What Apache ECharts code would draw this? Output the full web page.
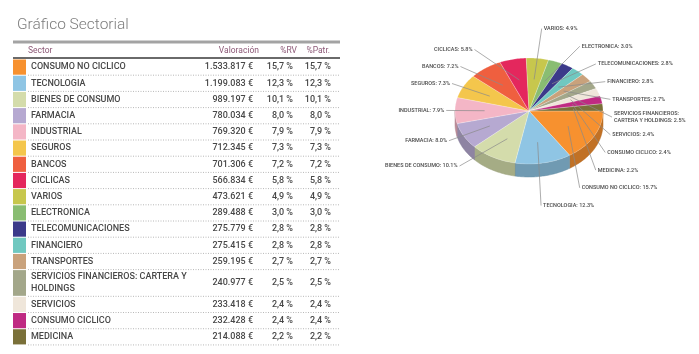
<!DOCTYPE html>
<html>
<head>
<meta charset="utf-8">
<script src="https://cdn.jsdelivr.net/npm/echarts@6/dist/echarts.min.js"></script>
<style>
  html, body { margin: 0; padding: 0; background: #fff; }
  #chart { width: 699px; height: 354px; }
</style>
</head>
<body>
<div id="chart"></div>
<script>
// data
const sectors = [
  'CONSUMO NO CICLICO', 'TECNOLOGIA', 'BIENES DE CONSUMO', 'FARMACIA', 'INDUSTRIAL',
  'SEGUROS', 'BANCOS', 'CICLICAS', 'VARIOS', 'ELECTRONICA', 'TELECOMUNICACIONES',
  'FINANCIERO', 'TRANSPORTES', 'SERVICIOS FINANCIEROS: CARTERA Y HOLDINGS',
  'SERVICIOS', 'CONSUMO CICLICO', 'MEDICINA'
];
const valuations = [
  1533817, 1199083, 989197, 780034, 769320, 712345, 701306, 566834, 473621,
  289488, 275779, 275415, 259195, 240977, 233418, 232428, 214088
];
const pctRV = [15.7, 12.3, 10.1, 8.0, 7.9, 7.3, 7.2, 5.8, 4.9, 3.0, 2.8, 2.8, 2.7, 2.5, 2.4, 2.4, 2.2];
const pctPatr = [15.7, 12.3, 10.1, 8.0, 7.9, 7.3, 7.2, 5.8, 4.9, 3.0, 2.8, 2.8, 2.7, 2.5, 2.4, 2.4, 2.2];
const headers = ['Sector', 'Valoración', '%RV', '%Patr.'];

const palette = [
  '#f7912f', '#8fc5e4', '#d4dcab', '#b6a9d1', '#f4b6c6', '#f4c64c', '#ef5f3f',
  '#e4275d', '#c7c74d', '#89bd72', '#3b3a8a', '#70c8c0', '#c9a27c', '#a3a78a',
  '#efe6da', '#bf2a82', '#7a7039'
];

// table layout
const rowPx = 16.2;
const rowUnits = sectors.map(s => (s.length > 32 ? 1.65 : 1));
const rowStart = [];
let acc = 0;
rowUnits.forEach(u => { rowStart.push(acc); acc += u; });
const totalUnits = acc;

const textFont = 'Roboto, "DejaVu Sans", sans-serif';

function fmtEur(n) {
  return String(n).replace(/\B(?=(\d{3})+(?!\d))/g, '.') + ' €';
}
function fmtPct(n) {
  return n.toFixed(1).replace('.', ',') + ' %';
}
function wrapName(s) {
  if (s.length <= 32) return s;
  const cut = s.lastIndexOf(' ', 32);
  return s.slice(0, cut) + '\n' + s.slice(cut + 1);
}

function renderRow(params, api) {
  const i = api.value(3);
  const p0 = api.coord([0, api.value(1)]);
  const p1 = api.coord([1, api.value(2)]);
  const h = p1[1] - p0[1];
  const ym = (p0[1] + p1[1]) / 2;
  const ts = { fill: '#474747', fontSize: 9, fontWeight: 500, fontFamily: textFont, verticalAlign: 'middle', lineHeight: 11.5 };
  return {
    type: 'group',
    children: [
      { type: 'rect', shape: { x: p0[0], y: p0[1] + 0.5, width: 13, height: h - 1 }, style: { fill: palette[i] } },
      { type: 'text', x: p0[0] + 18, y: ym, style: Object.assign({ text: wrapName(sectors[i]), align: 'left' }, ts) },
      { type: 'text', x: p0[0] + 240, y: ym, style: Object.assign({ text: fmtEur(valuations[i]), align: 'right' }, ts) },
      { type: 'text', x: p0[0] + 280, y: ym, style: Object.assign({ text: fmtPct(pctRV[i]), align: 'right' }, ts) },
      { type: 'text', x: p0[0] + 318, y: ym, style: Object.assign({ text: fmtPct(pctPatr[i]), align: 'right' }, ts) },
      { type: 'line', shape: { x1: p0[0] + 15, y1: p1[1], x2: p1[0], y2: p1[1] },
        style: { stroke: '#b8b8b8', lineWidth: 1, lineDash: [1, 1.5] } }
    ]
  };
}

// pie geometry
const pie = { cx: 529, cy: 111, rx: 74, ry: 53, depth: 13 };
const total = valuations.reduce((a, b) => a + b, 0);
let ang = 0;
const slices = valuations.map(v => {
  const a0 = ang;
  ang += v / total * Math.PI * 2;
  return { a0: a0, a1: ang, mid: (a0 + ang) / 2 };
});

// label layout: start on an ellipse per side, then push down to avoid overlaps
const rightItems = [], leftItems = [];
slices.forEach((s, i) => {
  if (Math.cos(s.mid) >= 0) rightItems.push({ i: i, ny: pie.cy + 83 * Math.sin(s.mid) });
  else leftItems.push({ i: i, ny: pie.cy + 63 * Math.sin(s.mid) });
});
function pushDown(items, gap, side) {
  items.sort((p, q) => p.ny - q.ny);
  let prev = -Infinity;
  items.forEach(it => {
    const y = Math.max(it.ny, prev + gap);
    prev = y;
    const dy = (y - (pie.cy + 6)) / 89.5;
    const off = 83 * Math.sqrt(Math.max(0, 1 - dy * dy));
    slices[it.i].label = { x: pie.cx + side * Math.max(off, 8), y: y, side: side };
  });
}
pushDown(rightItems, 17.7, 1);
pushDown(leftItems, 17, -1);

function shade(hex, f) {
  const n = parseInt(hex.slice(1), 16);
  const r = Math.round(((n >> 16) & 255) * f), g = Math.round(((n >> 8) & 255) * f), b = Math.round((n & 255) * f);
  return 'rgb(' + r + ',' + g + ',' + b + ')';
}

function renderSlice(params, api) {
  const i = api.value(1);
  const s = slices[i];
  const col = palette[i];
  const pt = (t, dz) => [pie.cx + pie.rx * Math.cos(t), pie.cy + pie.ry * Math.sin(t) + (dz || 0)];
  const children = [];

  const w0 = Math.max(s.a0, 0), w1 = Math.min(s.a1, Math.PI);
  if (w1 > w0) {
    const n = Math.max(2, Math.ceil((w1 - w0) / 0.02));
    const top = [], bot = [];
    for (let k = 0; k <= n; k++) {
      const t = w0 + (w1 - w0) * k / n;
      top.push(pt(t));
      bot.push(pt(t, pie.depth));
    }
    children.push({
      type: 'polygon', z2: 1,
      shape: { points: top.concat(bot.reverse()) },
      style: { fill: shade(col, 0.78), stroke: shade(col, 0.72), lineWidth: 0.5 }
    });
  }

  const n = Math.max(2, Math.ceil((s.a1 - s.a0) / 0.02));
  const pts = [[pie.cx, pie.cy]];
  for (let k = 0; k <= n; k++) pts.push(pt(s.a0 + (s.a1 - s.a0) * k / n));
  children.push({
    type: 'polygon', z2: 2,
    shape: { points: pts },
    style: { fill: col, stroke: 'rgba(255,255,255,0.45)', lineWidth: 0.5 }
  });

  const anchor = [pie.cx + 0.6 * pie.rx * Math.cos(s.mid), pie.cy + 0.6 * pie.ry * Math.sin(s.mid)];
  const lb = s.label;
  children.push({
    type: 'line', z2: 3,
    shape: { x1: anchor[0], y1: anchor[1], x2: lb.x, y2: lb.y },
    style: { stroke: '#8a8a8a', lineWidth: 0.7 }
  });
  children.push({
    type: 'text', z2: 4,
    x: lb.x + lb.side * 2, y: lb.y,
    style: {
      text: sectors[i].replace(': ', ':\n') + ': ' + pctRV[i].toFixed(1) + '%',
      fill: '#4a4a4a', fontSize: 5.5, fontFamily: textFont, fontWeight: 500,
      align: lb.side > 0 ? 'left' : 'right', verticalAlign: 'middle', lineHeight: 6.5
    }
  });
  return { type: 'group', children: children };
}

const headerStyle = { fill: '#8c5876', fontSize: 8.5, fontFamily: textFont };

const chart = echarts.init(document.getElementById('chart'));
chart.setOption({
  animation: false,
  title: {
    text: 'Gráfico Sectorial',
    left: 12, top: 12,
    textStyle: { fontSize: 15.5, fontWeight: 300, color: '#7d7d7d', fontFamily: textFont }
  },
  grid: { left: 13, top: 59, width: 327, height: totalUnits * rowPx },
  xAxis: { type: 'value', min: 0, max: 1, show: false },
  yAxis: { type: 'value', inverse: true, min: 0, max: totalUnits, show: false },
  graphic: [
    { type: 'line', shape: { x1: 13, y1: 42, x2: 340, y2: 42 }, style: { stroke: '#a3a3a3', lineWidth: 3 } },
    { type: 'line', shape: { x1: 13, y1: 58, x2: 340, y2: 58 }, style: { stroke: '#6a6a6a', lineWidth: 2 } },
    { type: 'text', x: 28, y: 51, style: Object.assign({ text: headers[0], align: 'left', verticalAlign: 'middle' }, headerStyle) },
    { type: 'text', x: 259, y: 51, style: Object.assign({ text: headers[1], align: 'right', verticalAlign: 'middle' }, headerStyle) },
    { type: 'text', x: 297, y: 51, style: Object.assign({ text: headers[2], align: 'right', verticalAlign: 'middle' }, headerStyle) },
    { type: 'text', x: 330, y: 51, style: Object.assign({ text: headers[3], align: 'right', verticalAlign: 'middle' }, headerStyle) }
  ],
  series: [
    {
      type: 'custom',
      coordinateSystem: 'cartesian2d',
      clip: false,
      silent: true,
      encode: { x: 0, y: [1, 2] },
      data: sectors.map((s, i) => [0, rowStart[i], rowStart[i] + rowUnits[i], i]),
      renderItem: renderRow
    },
    {
      type: 'custom',
      coordinateSystem: 'none',
      silent: true,
      data: valuations.map((v, i) => [v, i]),
      renderItem: renderSlice
    }
  ]
});
</script>
</body>
</html>
